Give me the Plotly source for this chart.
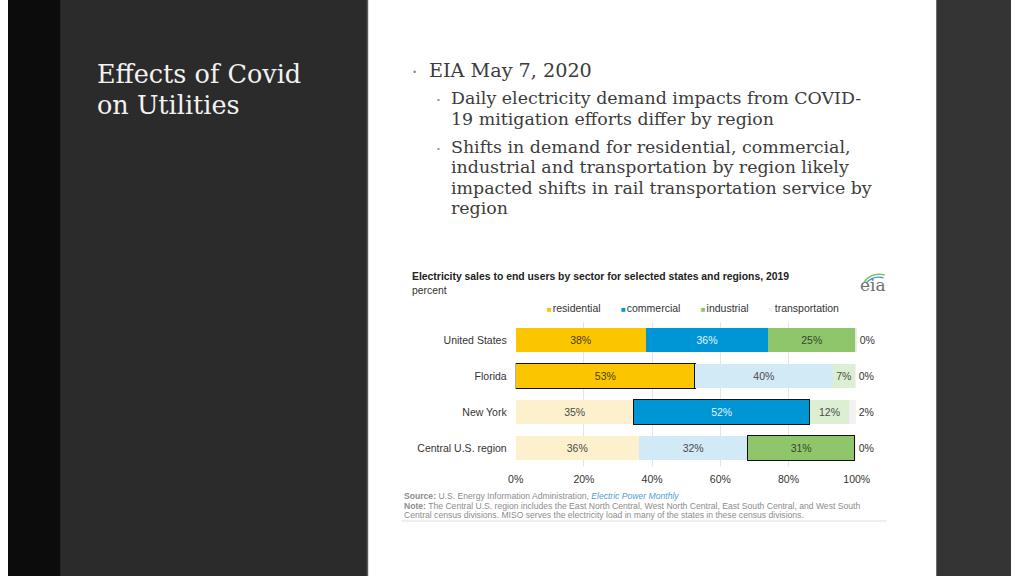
import plotly.graph_objects as go

# ---------------- data ----------------
regions = ["United States", "Florida", "New York", "Central U.S. region"]
sectors = ["residential", "commercial", "industrial", "transportation"]
residential = [38.1, 52.6, 34.6, 36.1]
commercial = [36.0, 40.3, 51.6, 31.9]
industrial = [25.4, 6.6, 11.6, 31.4]
transportation = [0.2, 0.1, 1.9, 0.1]
highlighted = [None, "residential", "commercial", "industrial"]  # outlined sector per row (None = all full colour)
x_ticks = [0, 20, 40, 60, 80, 100]
x_tick_labels = ["0%", "20%", "40%", "60%", "80%", "100%"]

chart_title = "Electricity sales to end users by sector for selected states and regions, 2019"
chart_unit = "percent"
source_lines = [
    "<b>Source:</b> U.S. Energy Information Administration, <i><span style='color:#4f9fcf'>Electric Power Monthly</span></i>",
    "<b>Note:</b> The Central U.S. region includes the East North Central, West North Central, East South Central, and West South",
    "Central census divisions. MISO serves the electricity load in many of the states in these census divisions.",
]
slide_title = ["Effects of Covid", "on Utilities"]
bullet_main = "EIA May 7, 2020"
bullet_sub = [
    ["Daily electricity demand impacts from COVID-", "19 mitigation efforts differ by region"],
    ["Shifts in demand for residential, commercial,", "industrial and transportation by region likely",
     "impacted shifts in rail transportation service by", "region"],
]

# ---------------- styles ----------------
W, H = 1024, 576
SANS = "Arial, Liberation Sans, sans-serif"
SERIF = "DejaVu Serif, serif"
full = {"residential": "#FBC600", "commercial": "#0096D6", "industrial": "#8FC66C", "transportation": "#E6E6E6"}
faded = {"residential": "#FDF1CD", "commercial": "#D2E9F6", "industrial": "#DDEFD2", "transportation": "#F1F1F1"}
text_full = {"residential": "#4A3D05", "commercial": "#E4F3FB", "industrial": "#34472A", "transportation": "#444444"}
text_faded = "#4A4A4A"


def px(x):
    return x / W


def py(y):
    return 1 - y / H


values = {"residential": residential, "commercial": commercial,
          "industrial": industrial, "transportation": transportation}

fig = go.Figure()
for s in sectors:
    vals = values[s]
    colors, tcolors, lw = [], [], []
    for i, v in enumerate(vals):
        on = highlighted[i] is None or highlighted[i] == s
        colors.append(full[s] if on else faded[s])
        tcolors.append(text_full[s] if on else text_faded)
        lw.append(1.6 if highlighted[i] == s else 0)
    outside = s == "transportation"
    fig.add_trace(go.Bar(
        y=regions, x=vals, orientation="h", name=s,
        marker=dict(color=colors, line=dict(color="#111111", width=lw)),
        text=[f"{v:.0f}%" for v in vals],
        textposition="outside" if outside else "inside",
        insidetextanchor="middle", textangle=0,
        textfont=dict(family=SANS, size=10.5, color=tcolors if not outside else "#333333"),
        cliponaxis=False, showlegend=False, hoverinfo="skip",
    ))

fig.update_layout(
    width=W, height=H, autosize=False, margin=dict(l=0, r=0, t=0, b=0),
    paper_bgcolor="white", plot_bgcolor="white",
    barmode="stack", bargap=0.31, showlegend=False,
    xaxis=dict(domain=[px(518.3), px(866.5)], range=[0, 100], tickvals=x_ticks, ticktext=x_tick_labels,
               showgrid=True, gridcolor="#E4E4E4", gridwidth=1, zeroline=False, showline=False,
               ticks="", ticklabelstandoff=5, tickfont=dict(family=SANS, size=10.5, color="#333333"),
               fixedrange=True),
    yaxis=dict(domain=[py(466), py(322)], autorange="reversed", showgrid=False, zeroline=False,
               showline=False, ticks="", ticklabelstandoff=8,
               tickfont=dict(family=SANS, size=10.5, color="#333333"), fixedrange=True),
)

shapes = [
    dict(type="rect", xref="paper", yref="paper", x0=0, x1=px(54), y0=0, y1=1,
         fillcolor="#0C0C0C", line_width=0, layer="below"),
    dict(type="rect", xref="paper", yref="paper", x0=px(54), x1=px(367), y0=0, y1=1,
         fillcolor="#2B2B2B", line_width=0, layer="below"),
    dict(type="line", xref="paper", yref="paper", x0=px(367), x1=px(367), y0=0, y1=1,
         line=dict(color="#5A5A5A", width=1.5), layer="below"),
    dict(type="rect", xref="paper", yref="paper", x0=px(948), x1=1, y0=0, y1=1,
         fillcolor="#343434", line_width=0, layer="below"),
    dict(type="line", xref="paper", yref="paper", x0=px(948), x1=px(948), y0=0, y1=1,
         line=dict(color="#6A6A6A", width=1), layer="below"),
    dict(type="line", xref="paper", yref="paper", x0=px(402), x1=px(897), y0=py(521), y1=py(521),
         line=dict(color="#EEEEEE", width=2), layer="below"),
    # eia logo arcs
    dict(type="path", xref="paper", yref="paper",
         path=f"M {px(874)},{py(282)} Q {px(882)},{py(272)} {px(895)},{py(275)}",
         line=dict(color="#7CC35A", width=1.6)),
    dict(type="path", xref="paper", yref="paper",
         path=f"M {px(876)},{py(283)} Q {px(884)},{py(275)} {px(894)},{py(278)}",
         line=dict(color="#2A9BC9", width=1.3)),
]

ann = []


def text(x, y, s, size, color, family=SANS, anchor="left"):
    ann.append(dict(xref="paper", yref="paper", x=px(x), y=py(y), text=s, showarrow=False,
                    xanchor=anchor, yanchor="middle", align="left",
                    font=dict(family=family, size=size, color=color)))


# slide title
text(89, 74, slide_title[0], 25.5, "#F2F2F2", SERIF)
text(89, 105, slide_title[1], 25.5, "#F2F2F2", SERIF)

# bullets
text(411, 72, "•", 9, "#8A8A8A", SANS)
text(428, 70, bullet_main, 19.2, "#3C3C3C", SERIF)
sub_y = [[98, 119], [147, 167, 188, 208]]
for blk, ys in zip(bullet_sub, sub_y):
    text(436, ys[0] + 1, "•", 8, "#8A8A8A", SANS)
    for line, yy in zip(blk, ys):
        text(450, yy, line, 17.4, "#3C3C3C", SERIF)

# chart header
text(410, 276.5, f"<b>{chart_title}</b>", 10.4, "#222222")
text(410, 290.5, chart_unit, 10.4, "#333333")
text(883, 285, "eia", 17, "#707070", "DejaVu Serif, serif", anchor="center")

# legend built from sectors and their colours
legend_str = "&nbsp;&nbsp;&nbsp;&nbsp;&nbsp;&nbsp;&nbsp;".join(
    f"<span style='color:{full[s] if s != 'transportation' else '#F4F4F4'}; font-size:8px'>■</span>&#8202;{s}"
    for s in sectors)
text(548, 308, legend_str, 10.5, "#333333")

# source / note
for s, yy in zip(source_lines, [496, 505.5, 515]):
    text(402, yy, s, 8.6, "#8C8C8C")

fig.update_layout(shapes=shapes, annotations=ann)

page_js = """
var st = document.createElement('style');
st.textContent = 'html,body{margin:0!important;padding:0!important;overflow:hidden!important;width:1024px;height:576px;}'
  + '.plotly-graph-div{position:fixed!important;left:0!important;top:0!important;}';
document.head.appendChild(st);
"""
fig.write_html("out.html",
               config={"responsive": False, "displayModeBar": False},
               post_script=page_js)
